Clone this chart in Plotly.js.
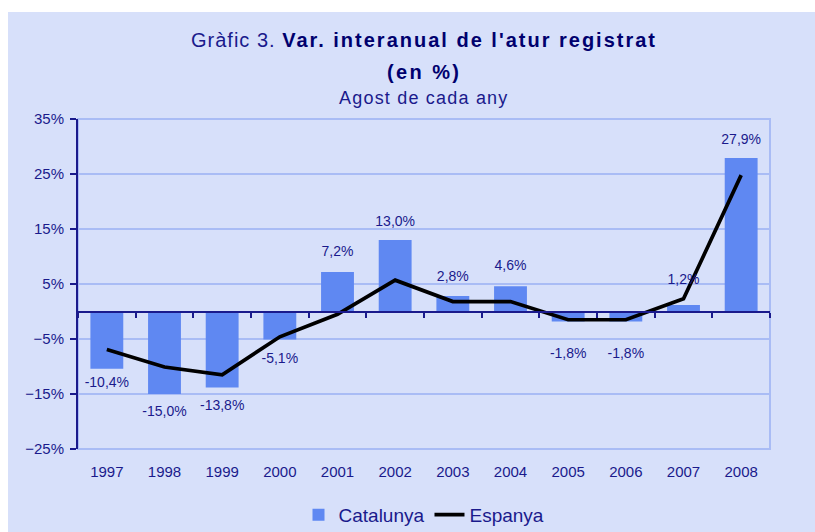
<!DOCTYPE html>
<html>
<head>
<meta charset="utf-8">
<script src="https://cdn.plot.ly/plotly-3.0.1.min.js"></script>
<style>
html,body{margin:0;padding:0;background:#ffffff;width:815px;height:532px;overflow:hidden;}
#chart{position:absolute;left:8px;top:12px;width:807px;height:520px;}
</style>
</head>
<body>
<div id="chart"></div>
<script>
const years = ['1997','1998','1999','2000','2001','2002','2003','2004','2005','2006','2007','2008'];
const catalunya = [-10.4, -15.0, -13.8, -5.1, 7.2, 13.0, 2.8, 4.6, -1.8, -1.8, 1.2, 27.9];
const espanya = [-6.9, -10.1, -11.5, -4.6, -0.5, 5.7, 1.8, 1.8, -1.5, -1.5, 2.3, 24.8];

// label gap (style only): invisible marker size that sets the distance of each value label from its bar end
const labelGap = [11, 17, 17, 19, 18, 16, 17, 18, 40, 40, 27, 15];

const navy = '#1a1a8c';
const darkNavy = '#00006e';
const bg = '#d7e0fa';
const grid = '#a9bcf5';
const barColor = '#5f88f2';
const font = 'Liberation Sans, Arial, sans-serif';

const traces = [
  {
    type: 'bar', name: 'Catalunya', x: years, y: catalunya,
    marker: {color: barColor}, hoverinfo: 'x+y'
  },
  {
    type: 'scatter', mode: 'lines', name: 'Espanya', x: years, y: espanya,
    line: {color: '#000000', width: 3.7}
  },
  {
    type: 'scatter', mode: 'markers+text', x: years, y: catalunya,
    text: catalunya.map(v => v.toFixed(1).replace('.', ',') + '%'),
    textposition: catalunya.map(v => v >= 0 ? 'top center' : 'bottom center'),
    textfont: {color: navy, size: 14, family: font},
    marker: {size: labelGap, opacity: 0, color: barColor},
    showlegend: false, hoverinfo: 'skip', cliponaxis: false
  },
  {
    type: 'scatter', mode: 'lines', x: years, y: years.map(() => null),
    xaxis: 'x2', yaxis: 'y', showlegend: false, hoverinfo: 'skip'
  }
];

const layout = {
  width: 807, height: 520,
  margin: {l: 70, r: 45, t: 107, b: 83},
  paper_bgcolor: bg, plot_bgcolor: bg,
  separators: ',.',
  font: {family: font, color: navy},
  bargap: 0.43,
  showlegend: true,
  legend: {orientation: 'h', x: 0.5, xanchor: 'center', xref: 'paper',
           yref: 'container', y: 0.033, yanchor: 'middle',
           font: {size: 19, color: navy}, bgcolor: 'rgba(0,0,0,0)'},
  xaxis: {
    type: 'category', categoryorder: 'array', categoryarray: years,
    range: [-0.5, 11.5],
    showline: false, showgrid: false, zeroline: false,
    ticks: 'outside', ticklen: 9, tickcolor: 'rgba(0,0,0,0)',
    tickfont: {size: 15, color: navy}
  },
  xaxis2: {
    type: 'category', categoryorder: 'array', categoryarray: years,
    range: [-0.5, 11.5], overlaying: 'x', anchor: 'free', position: 25/60,
    showline: true, linecolor: navy, linewidth: 2,
    ticks: 'outside', tickson: 'boundaries', ticklen: 5, tickwidth: 2, tickcolor: navy,
    showticklabels: false, showgrid: false, zeroline: false
  },
  yaxis: {
    range: [-25, 35], tick0: 5, dtick: 10, ticksuffix: '%',
    showline: true, linecolor: navy, linewidth: 2,
    ticks: 'outside', ticklen: 6, tickwidth: 2, tickcolor: navy,
    ticklabelstandoff: 3,
    gridcolor: grid, gridwidth: 1.5, zeroline: false,
    tickfont: {size: 15, color: navy}
  },
  shapes: [
    {type: 'rect', xref: 'paper', yref: 'paper', x0: 0, x1: 1, y0: 0, y1: 1,
     line: {color: grid, width: 2}, layer: 'below'}
  ],
  annotations: [
    {xref: 'paper', yref: 'paper', x: 0.5, y: 1.24, yanchor: 'middle', showarrow: false,
     text: "<span style='letter-spacing:1px'>Gràfic 3. </span><span style='letter-spacing:2px;fill:" + darkNavy + "'><b>Var. interanual de l'atur registrat</b></span>",
     font: {size: 20, color: navy}},
    {xref: 'paper', yref: 'paper', x: 0.5, y: 1.143, yanchor: 'middle', showarrow: false,
     text: "<span style='letter-spacing:2.4px'><b>(en %)</b></span>", font: {size: 20, color: darkNavy}},
    {xref: 'paper', yref: 'paper', x: 0.5, y: 1.065, yanchor: 'middle', showarrow: false,
     text: "<span style='letter-spacing:1.2px'>Agost de cada any</span>", font: {size: 18, color: navy}}
  ]
};

Plotly.newPlot('chart', traces, layout, {displayModeBar: false, staticPlot: true});
</script>
</body>
</html>
